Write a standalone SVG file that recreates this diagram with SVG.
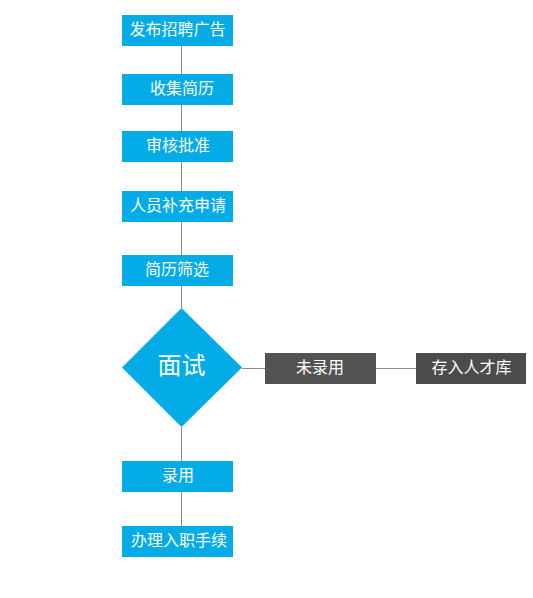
<svg xmlns="http://www.w3.org/2000/svg" width="533" height="598" viewBox="0 0 533 598">
<style>
.b{fill:#03ace6}
.d{fill:#535353}
.t{fill:#ffffff;font-family:"Noto Sans CJK SC","Noto Sans",sans-serif;font-size:16px;text-anchor:middle}
.big{font-size:24px}
.c{stroke:#8a8a8a;stroke-width:1;fill:none}
</style>
<rect width="533" height="598" fill="#ffffff"/>
<g id="connectors">
<line class="c" x1="181.5" y1="46" x2="181.5" y2="74"/>
<line class="c" x1="181.5" y1="105" x2="181.5" y2="131"/>
<line class="c" x1="181.5" y1="162" x2="181.5" y2="191"/>
<line class="c" x1="181.5" y1="222" x2="181.5" y2="255"/>
<line class="c" x1="181.5" y1="286" x2="181.5" y2="308"/>
<line class="c" x1="181.5" y1="427" x2="181.5" y2="461"/>
<line class="c" x1="181.5" y1="492" x2="181.5" y2="526"/>
<line class="c" x1="242" y1="368.5" x2="265" y2="368.5"/>
<line class="c" x1="376" y1="368.5" x2="416" y2="368.5"/>
</g>
<g id="n1"><rect class="b" x="122" y="15" width="111" height="31"/><text class="t" x="177.5" y="35">发布招聘广告</text></g>
<g id="n2"><rect class="b" x="122" y="74" width="111" height="31"/><text class="t" x="182" y="94">收集简历</text></g>
<g id="n3"><rect class="b" x="122" y="131" width="111" height="31"/><text class="t" x="178" y="151">审核批准</text></g>
<g id="n4"><rect class="b" x="122" y="191" width="111" height="31"/><text class="t" x="178" y="211">人员补充申请</text></g>
<g id="n5"><rect class="b" x="122" y="255" width="111" height="31"/><text class="t" x="177" y="275">简历筛选</text></g>
<g id="n6"><polygon class="b" points="181.5,308 242,367.5 181.5,427 122,367.5"/><text class="t big" x="181.5" y="373.5">面试</text></g>
<g id="n7"><rect class="d" x="265" y="353" width="111" height="31"/><text class="t" x="320" y="373">未录用</text></g>
<g id="n8"><rect x="416" y="353" width="110" height="31" fill="#4c4c4c"/><text class="t" x="471.5" y="373">存入人才库</text></g>
<g id="n9"><rect class="b" x="122" y="461" width="111" height="31"/><text class="t" x="178" y="481">录用</text></g>
<g id="n10"><rect class="b" x="122" y="526" width="111" height="31"/><text class="t" x="179" y="546">办理入职手续</text></g>
</svg>
